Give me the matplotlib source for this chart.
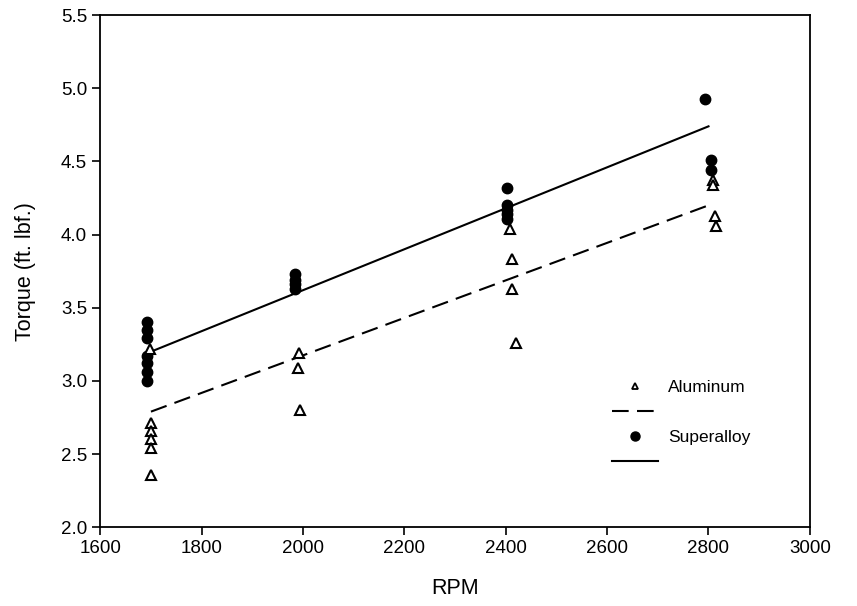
import numpy as np
import matplotlib
matplotlib.use("Agg")
import matplotlib.pyplot as plt
from matplotlib.lines import Line2D
from matplotlib.ticker import FormatStrFormatter

plt.rcParams["font.family"] = ["Liberation Sans", "DejaVu Sans"]

# measured torque, aluminum specimens
al_rpm = [1700, 1700, 1700, 1700, 1700, 1698,
          1993, 1990, 1995,
          2408, 2412, 2413, 2420,
          2808, 2808, 2813, 2815]
al_torque = [2.71, 2.66, 2.60, 2.54, 2.36, 3.22,
             3.19, 3.09, 2.80,
             4.04, 3.83, 3.63, 3.26,
             4.37, 4.34, 4.13, 4.06]

# measured torque, superalloy specimens
su_rpm = [1692, 1692, 1692, 1692, 1692, 1692, 1692,
          1985, 1985, 1985, 1985,
          2403, 2403, 2403, 2403, 2403,
          2793, 2805, 2805]
su_torque = [3.40, 3.35, 3.29, 3.17, 3.12, 3.06, 3.00,
             3.73, 3.69, 3.66, 3.63,
             4.32, 4.20, 4.17, 4.14, 4.11,
             4.93, 4.51, 4.44]

# linear fits
fit_rpm = [1700, 2800]
al_fit = [2.79, 4.20]
su_fit = [3.20, 4.74]

fig = plt.figure(figsize=(8.57, 6.06), dpi=100)
ax = fig.add_axes([0.117, 0.130, 0.828, 0.845])

ax.plot(fit_rpm, al_fit, color="black", lw=1.5, dashes=(8, 4))
ax.plot(fit_rpm, su_fit, color="black", lw=1.5)
ax.plot(su_rpm, su_torque, "o", ms=7.5, mfc="black", mec="black", ls="none")
ax.plot(al_rpm, al_torque, "^", ms=6.5, mfc="white", mec="black", mew=1.5, ls="none")

ax.set_xlim(1600, 3000)
ax.set_ylim(2.0, 5.5)
ax.set_xticks(np.arange(1600, 3001, 200))
ax.set_yticks(np.arange(2.0, 5.51, 0.5))
ax.yaxis.set_major_formatter(FormatStrFormatter("%.1f"))
ax.tick_params(direction="out", length=6, width=1.2, labelsize=13.5)
ax.tick_params(top=False, right=False)
for s in ax.spines.values():
    s.set_linewidth(1.3)

ax.set_xlabel("RPM", fontsize=15.5, labelpad=15)
ax.set_ylabel("Torque (ft. lbf.)", fontsize=15.5, labelpad=18)

handles = [
    Line2D([], [], marker="^", ms=5, mfc="white", mec="black", mew=1.3, ls="none"),
    Line2D([], [], color="black", lw=1.5, dashes=(8, 4)),
    Line2D([], [], marker="o", ms=6.5, mfc="black", mec="black", ls="none"),
    Line2D([], [], color="black", lw=1.5),
]
labels = ["Aluminum", " ", "Superalloy", " "]
ax.legend(handles, labels, loc="upper left", bbox_to_anchor=(0.721, 0.287),
          frameon=False, fontsize=12.5, handlelength=2.65, handletextpad=0.57,
          labelspacing=0.56, borderpad=0, borderaxespad=0)

fig.savefig("out.png", dpi=100)
